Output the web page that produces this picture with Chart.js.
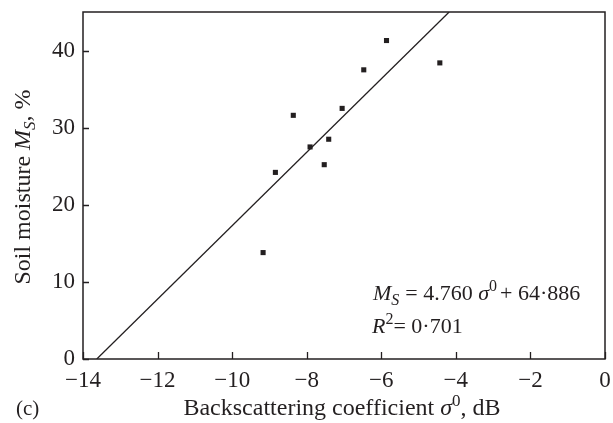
<!DOCTYPE html>
<html lang="en">
  <head>
    <meta charset="UTF-8" />
    <title>Soil moisture vs backscattering</title>
    <script src="https://cdn.jsdelivr.net/npm/chart.js"></script>
    <style>
      html, body { margin: 0; padding: 0; background: #ffffff; }
      #wrap { width: 613px; height: 423px; position: relative; }
    </style>
  </head>
  <body>
    <div id="wrap"><canvas id="chart"></canvas></div>
    <script>
      // measured points (sigma0 in dB, soil moisture in %)
      const sigma0 = [-9.17, -8.84, -8.36, -7.91, -7.53, -7.41, -7.05, -6.47, -5.86, -4.43];
      const moisture = [13.8, 24.2, 31.6, 27.5, 25.2, 28.5, 32.5, 37.5, 41.3, 38.4];
      // regression line where it meets the frame (y = 0 and y = 45)
      const fitX = [-13.63, -4.18];
      const fitY = [0, 45];
      const xTicks = [-14, -12, -10, -8, -6, -4, -2, 0];
      const yTicks = [0, 10, 20, 30, 40];

      const FONT = "'Liberation Serif', 'DejaVu Serif', serif";
      const INK = "#231f20";

      // draws a list of text runs starting (or centred) at x
      function richText(ctx, runs, x, y, align) {
        let total = 0;
        runs.forEach((r) => {
          ctx.font = (r.italic ? "italic " : "") + r.size + "px " + FONT;
          r.w = ctx.measureText(r.t).width;
          total += r.w + (r.gap || 0);
        });
        let cx = align === "center" ? x - total / 2 : x;
        runs.forEach((r) => {
          ctx.font = (r.italic ? "italic " : "") + r.size + "px " + FONT;
          ctx.fillText(r.t, cx, y + (r.dy || 0));
          cx += r.w + (r.gap || 0);
        });
      }

      const frame = {
        id: "frame",
        afterDraw(chart) {
          const ctx = chart.ctx;
          const a = chart.chartArea;
          const xs = chart.scales.x;
          const ys = chart.scales.y;
          ctx.save();
          ctx.strokeStyle = INK;
          ctx.lineWidth = 1.5;
          ctx.strokeRect(a.left, a.top, a.right - a.left, a.bottom - a.top);
          // inward ticks
          ctx.lineWidth = 1.3;
          ctx.beginPath();
          xTicks.forEach((v) => {
            const px = Math.round(xs.getPixelForValue(v)) + 0.5;
            ctx.moveTo(px, a.bottom);
            ctx.lineTo(px, a.bottom - 7);
          });
          yTicks.forEach((v) => {
            const py = Math.round(ys.getPixelForValue(v)) + 0.5;
            ctx.moveTo(a.left, py);
            ctx.lineTo(a.left + 6, py);
          });
          ctx.stroke();

          ctx.fillStyle = INK;
          ctx.textBaseline = "alphabetic";
          ctx.textAlign = "left";

          // x title
          richText(ctx, [
            { t: "Backscattering coefficient ", size: 24 },
            { t: "σ", size: 24, italic: true },
            { t: "0", size: 17, dy: -9 },
            { t: ", dB", size: 24 },
          ], 342, 415, "center");

          // panel label
          richText(ctx, [{ t: "(c)", size: 21 }], 16, 415, "left");

          // y title, rotated
          ctx.save();
          ctx.translate(30, 187);
          ctx.rotate(-Math.PI / 2);
          richText(ctx, [
            { t: "Soil moisture ", size: 24 },
            { t: "M", size: 24, italic: true },
            { t: "S", size: 17, italic: true, dy: 5 },
            { t: ", %", size: 24 },
          ], 0, 0, "center");
          ctx.restore();

          // regression annotation
          richText(ctx, [
            { t: "M", size: 22, italic: true },
            { t: "S", size: 16, italic: true, dy: 5, gap: 6 },
            { t: "= 4.760 ", size: 22 },
            { t: "σ", size: 22, italic: true },
            { t: "0", size: 16, dy: -9, gap: 3 },
            { t: "+ 64·886", size: 22 },
          ], 373, 300, "left");
          richText(ctx, [
            { t: "R", size: 22, italic: true },
            { t: "2", size: 16, dy: -9 },
            { t: "= 0·701", size: 22 },
          ], 372, 333, "left");
          ctx.restore();
        },
      };

      new Chart(document.getElementById("chart"), {
        data: {
          datasets: [
            {
              type: "scatter",
              data: sigma0.map((x, i) => ({ x: x, y: moisture[i] })),
              pointStyle: "rect",
              pointRadius: 3.6,
              pointHoverRadius: 3.6,
              backgroundColor: INK,
              borderColor: INK,
              borderWidth: 0,
            },
            {
              type: "line",
              data: fitX.map((x, i) => ({ x: x, y: fitY[i] })),
              borderColor: INK,
              borderWidth: 1.3,
              pointRadius: 0,
              fill: false,
            },
          ],
        },
        options: {
          responsive: true,
          maintainAspectRatio: false,
          animation: false,
          events: [],
          layout: { padding: { top: 12, right: 8, left: 0, bottom: 0 } },
          plugins: { legend: { display: false }, tooltip: { enabled: false } },
          scales: {
            x: {
              type: "linear",
              min: -14,
              max: 0,
              afterFit: (s) => {
                s.height = 64;
                s.paddingLeft = 0;
                s.paddingRight = 0;
              },
              afterBuildTicks: (s) => { s.ticks = xTicks.map((v) => ({ value: v })); },
              grid: { display: false, drawTicks: false },
              border: { display: false },
              ticks: {
                padding: 8,
                color: INK,
                font: { family: FONT, size: 23 },
                callback: (v) => String(v).replace("-", "\u2212"),
              },
            },
            y: {
              type: "linear",
              min: 0,
              max: 45,
              afterFit: (s) => {
                s.width = 83;
                s.paddingTop = 0;
                s.paddingBottom = 0;
              },
              afterBuildTicks: (s) => { s.ticks = yTicks.map((v) => ({ value: v })); },
              grid: { display: false, drawTicks: false },
              border: { display: false },
              ticks: {
                padding: 8,
                color: INK,
                font: { family: FONT, size: 23 },
              },
            },
          },
        },
        plugins: [frame],
      });
    </script>
  </body>
</html>
